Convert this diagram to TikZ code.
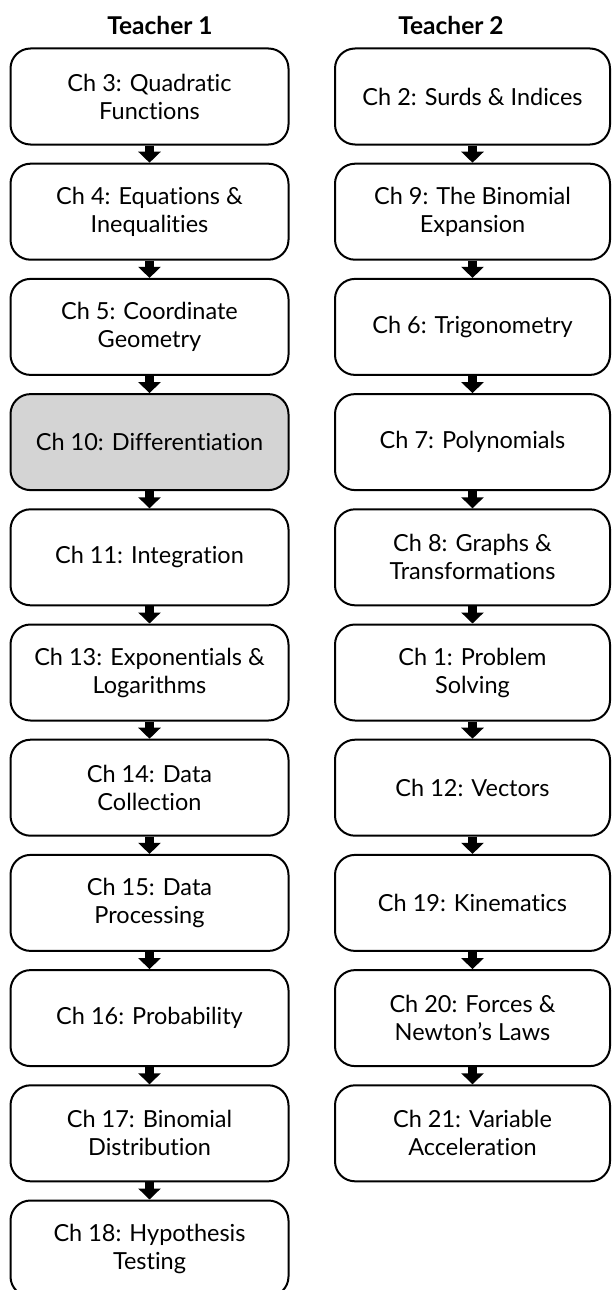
\documentclass[tikz,border=0pt]{standalone}
\usepackage{fontspec}
\setmainfont{Lato}[Ligatures=NoCommon]
\usetikzlibrary{arrows.meta}

\tikzset{
  chbox/.style={draw, line width=2pt, rounded corners=20pt, minimum width=278pt,
    minimum height=96pt, inner sep=0pt, align=center,
    font=\fontsize{23.5}{28}\selectfont},
  chbox2/.style={chbox, minimum width=275pt},
  hd/.style={font=\fontsize{24.5}{28}\selectfont\bfseries},
  nxt/.style={line width=9pt, -{Triangle[width=22pt,length=11pt]}}
}

\begin{document}
\begin{tikzpicture}[x=1pt,y=1pt]
    \useasboundingbox (0,0) rectangle (611,-1290);
    \node[hd] (H1) at (160,-25) {Teacher 1};
    \node[hd] (H2) at (451,-25) {Teacher 2};
    % teacher 1
    \node[chbox] (A1) at (149.5,-96.5) {Ch 3: Quadratic\\Functions};
    \node[chbox] (A2) at (149.5,-211.7) {Ch 4: Equations \&\\Inequalities};
    \node[chbox] (A3) at (149.5,-326.9) {Ch 5: Coordinate\\Geometry};
    \node[chbox,fill=black!17] (A4) at (149.5,-442.1) {Ch 10: Differentiation};
    \node[chbox] (A5) at (149.5,-557.3) {Ch 11: Integration};
    \node[chbox] (A6) at (149.5,-672.5) {Ch 13: Exponentials \&\\Logarithms};
    \node[chbox] (A7) at (149.5,-787.7) {Ch 14: Data\\Collection};
    \node[chbox] (A8) at (149.5,-902.9) {Ch 15: Data\\Processing};
    \node[chbox] (A9) at (149.5,-1018.1) {Ch 16: Probability};
    \node[chbox] (A10) at (149.5,-1133.3) {Ch 17: Binomial\\Distribution};
    \node[chbox] (A11) at (149.5,-1248.5) {Ch 18: Hypothesis\\Testing};
    % teacher 2
    \node[chbox2] (B1) at (472.5,-96.5) {Ch 2: Surds \& Indices};
    \node[chbox2] (B2) at (472.5,-211.7) {Ch 9: The Binomial\\Expansion};
    \node[chbox2] (B3) at (472.5,-326.9) {Ch 6: Trigonometry};
    \node[chbox2] (B4) at (472.5,-442.1) {Ch 7: Polynomials};
    \node[chbox2] (B5) at (472.5,-557.3) {Ch 8: Graphs \&\\Transformations};
    \node[chbox2] (B6) at (472.5,-672.5) {Ch 1: Problem\\Solving};
    \node[chbox2] (B7) at (472.5,-787.7) {Ch 12: Vectors};
    \node[chbox2] (B8) at (472.5,-902.9) {Ch 19: Kinematics};
    \node[chbox2] (B9) at (472.5,-1018.1) {Ch 20: Forces \&\\Newton's Laws};
    \node[chbox2] (B10) at (472.5,-1133.3) {Ch 21: Variable\\Acceleration};
    \foreach \i [evaluate=\i as \j using int(\i+1)] in {1,...,10}
      \draw[nxt] (A\i.south) -- (A\j.north);
    \foreach \i [evaluate=\i as \j using int(\i+1)] in {1,...,9}
      \draw[nxt] (B\i.south) -- (B\j.north);
\end{tikzpicture}
\end{document}
